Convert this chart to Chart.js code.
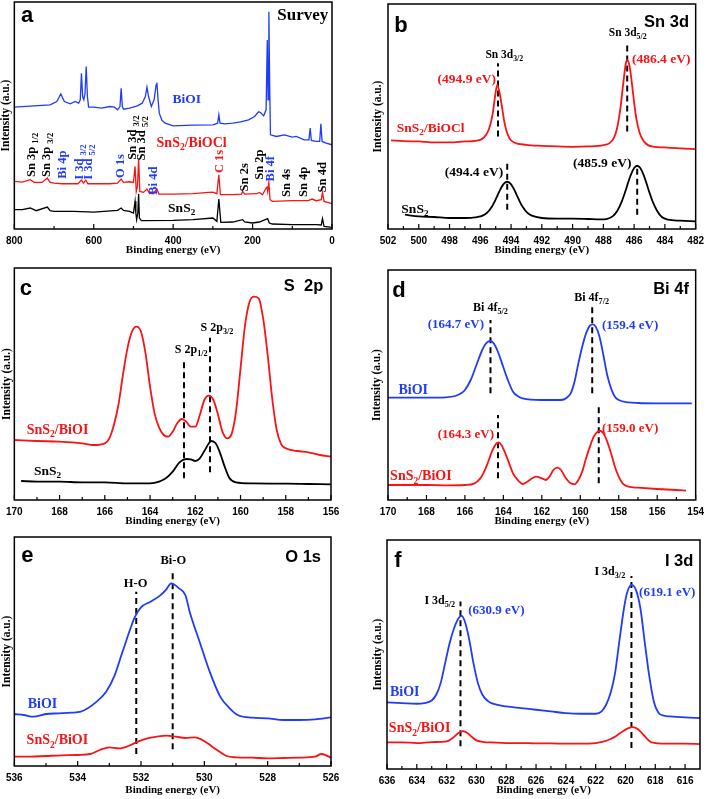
<!DOCTYPE html>
<html>
<head>
<meta charset="utf-8">
<script src="https://cdn.jsdelivr.net/npm/chart.js@4.4.1/dist/chart.umd.min.js"></script>
<style>
  html, body { margin: 0; padding: 0; background: #fff; }
  body { width: 710px; height: 799px; position: relative; overflow: hidden; }
  canvas { position: absolute; }
</style>
</head>
<body>
<canvas id="pa" width="355" height="265" style="left:0;top:0"></canvas>
<canvas id="pb" width="355" height="265" style="left:355px;top:0"></canvas>
<canvas id="pc" width="355" height="268" style="left:0;top:262px"></canvas>
<canvas id="pd" width="355" height="268" style="left:355px;top:262px"></canvas>
<canvas id="pe" width="355" height="269" style="left:0;top:530px"></canvas>
<canvas id="pf" width="355" height="269" style="left:355px;top:530px"></canvas>
<script>
// ---- data: [binding energy (eV), intensity (a.u.)] ----

// (a) survey
const aTicks = [800, 600, 400, 200, 0];
const aBiOI = [[800,366],[751,370],[710,373],[693,383],[683,406],[674,383],[659,376],[647,383],[638,378],[634,388],[631,468],[628,398],[625,388],[622,408],[619,488],[616,398],[613,366],[600,366],[580,363],[560,368],[548,366],[540,358],[534,368],[531,423],[528,368],[525,360],[510,363],[490,370],[478,378],[470,398],[466,426],[462,398],[455,368],[448,388],[443,433],[441,440],[438,388],[435,348],[428,326],[420,318],[400,310],[350,312],[300,313],[288,318],[285,343],[282,318],[270,316],[250,318],[230,322],[210,328],[195,338],[185,352],[180,350],[172,340],[166,358],[163,568],[161,388],[159,653],[157,438],[155,283],[140,278],[120,283],[100,276],[90,278],[70,268],[58,268],[55,303],[52,266],[40,263],[31,263],[28,316],[25,263],[15,258],[0,253]];
const aSnS2BiOCl = [[800,143],[780,141],[760,148],[750,140],[730,140],[717,153],[710,140],[700,138],[680,136],[640,136],[631,147],[626,138],[620,147],[615,136],[600,136],[560,136],[540,138],[531,150],[525,140],[510,142],[500,140],[496,188],[493,113],[490,128],[487,210],[484,113],[475,110],[466,120],[460,108],[450,106],[441,120],[436,105],[400,105],[350,106],[310,110],[300,111],[290,106],[285,163],[281,103],[250,103],[228,105],[225,113],[220,105],[190,106],[183,110],[175,103],[166,123],[164,128],[162,113],[159,140],[156,88],[150,83],[100,85],[60,85],[50,90],[40,85],[27,88],[24,110],[20,83],[0,76]];
const aSnS2 = [[800,58],[780,58],[760,63],[745,55],[717,66],[710,55],[700,53],[650,53],[600,51],[540,56],[531,63],[525,56],[510,53],[500,48],[496,83],[494,48],[492,28],[489,48],[487,105],[485,33],[480,25],[400,26],[350,28],[300,33],[290,23],[285,90],[280,20],[250,21],[225,28],[220,21],[200,18],[183,21],[162,31],[158,18],[150,15],[100,13],[40,13],[27,12],[24,31],[20,8],[0,5]];

// (b) Sn 3d
const bTicks = [502, 500, 498, 496, 494, 492, 490, 488, 486, 484, 482];
const bSnS2BiOCl = [[501.8,266],[501,264],[500,263],[499,260],[498,260],[497,263],[496,268],[495.6,285],[495.4,305],[495.2,345],[495.05,395],[494.9,433],[494.75,410],[494.6,370],[494.45,325],[494.3,295],[494.1,272],[493.8,260],[493,253],[492,250],[491,248],[490,247],[489,248],[488,252],[487.6,258],[487.3,275],[487.1,305],[486.9,360],[486.7,440],[486.55,495],[486.45,508],[486.3,490],[486.15,440],[486,380],[485.85,330],[485.65,290],[485.4,265],[485.1,252],[484.7,247],[484,245],[483,242],[482,240]];
const bSnS2 = [[500.9,43],[500,38],[499,36],[498,33],[497,33],[496.2,36],[495.85,40],[495.55,49],[495.25,67],[495.05,84],[494.85,104],[494.65,123],[494.45,137],[494.25,142],[494.05,137],[493.85,123],[493.65,104],[493.45,84],[493.25,67],[492.95,49],[492.65,40],[492,33],[491,31],[490,31],[489,30],[488.2,29],[487.8,30],[487.4,38],[487.1,54],[486.8,83],[486.6,109],[486.4,138],[486.2,164],[486,183],[485.8,190],[485.6,183],[485.4,164],[485.2,138],[485,109],[484.8,83],[484.5,54],[484.2,36],[483.8,28],[483,25],[482,23]];
const bPeaks = [[494.85,278,498],[486.45,293,563],[494.25,58,203],[485.8,43,193]];

// (c) S 2p
const cTicks = [170, 168, 166, 164, 162, 160, 158, 156];
const cSnS2BiOI = [[170,180],[169,177],[168,175],[167,170],[166.5,165],[166,170],[165.8,185],[165.6,225],[165.4,285],[165.2,375],[165,455],[164.8,505],[164.6,520],[164.4,505],[164.2,440],[164,340],[163.8,260],[163.6,217],[163.4,195],[163.2,190],[163,205],[162.8,230],[162.6,243],[162.4,235],[162.2,220],[162,220],[161.8,255],[161.6,300],[161.4,313],[161.2,300],[161,257],[160.8,205],[160.6,185],[160.4,197],[160.2,265],[160,395],[159.8,525],[159.6,595],[159.4,610],[159.2,605],[159,545],[158.8,435],[158.6,305],[158.4,210],[158.2,167],[158,155],[157.5,147],[157,143],[156.5,135],[156,130]];
const cSnS2 = [[169.7,57],[169,55],[168,55],[167,53],[166,53],[165,50],[164,50],[163.6,55],[163.3,65],[163,85],[162.7,113],[162.4,123],[162.2,122],[162,117],[161.8,125],[161.6,147],[161.4,170],[161.3,177],[161.1,170],[160.9,140],[160.7,100],[160.5,67],[160.2,53],[159.5,50],[158,49],[157,48],[156,47]];
const cPeaks = [[162.5,65,425],[161.35,83,487]];

// (d) Bi 4f
const dTicks = [170, 168, 166, 164, 162, 160, 158, 156, 154];
const dBiOI = [[170,307],[169,307],[168,307],[167,308],[166.5,312],[166.2,320],[166,330],[165.7,360],[165.4,405],[165.1,450],[164.9,470],[164.7,477],[164.5,470],[164.3,447],[164.1,415],[163.8,365],[163.5,325],[163.2,310],[163,305],[162,300],[161,300],[160.7,307],[160.5,320],[160.3,355],[160.1,410],[159.9,460],[159.7,500],[159.5,523],[159.35,527],[159.2,520],[159,490],[158.8,435],[158.6,375],[158.4,335],[158.2,310],[158,300],[157.5,293],[157,291],[156,290],[155,290],[154.2,290]];
const dSnS2BiOI = [[170,45],[169,45],[168,45],[167,44],[166,45],[165.5,50],[165.2,65],[165,85],[164.8,113],[164.6,145],[164.4,167],[164.25,173],[164.1,165],[163.9,140],[163.7,110],[163.5,80],[163.2,57],[163,48],[162.8,53],[162.5,65],[162.3,70],[162,65],[161.8,60],[161.6,70],[161.4,90],[161.2,97],[161,90],[160.8,70],[160.5,50],[160.3,47],[160.1,60],[159.9,85],[159.7,125],[159.5,160],[159.3,190],[159.1,205],[158.95,207],[158.8,200],[158.6,175],[158.4,140],[158.2,100],[158,70],[157.8,50],[157.5,40],[157,37],[156,33],[155,30],[154.5,28]];
const dPeaks = [[164.67,320,540],[159.38,320,580],[164.28,65,255],[159.04,50,280]];

// (e) O 1s
const eTicks = [536, 534, 532, 530, 528, 526];
const eBiOI = [[536,156],[535.7,153],[535.4,148],[535,156],[534.6,158],[534.2,160],[533.9,163],[533.4,193],[533.1,223],[532.85,268],[532.6,338],[532.35,408],[532.2,446],[532,476],[531.7,493],[531.4,511],[531.2,530],[531.05,548],[530.8,533],[530.6,513],[530.45,458],[530.15,373],[529.85,288],[529.5,208],[529.2,173],[528.95,153],[528.5,145],[528,143],[527.5,138],[527,138],[526.5,140],[526,146]];
const eSnS2BiOI = [[536,28],[535.5,28],[535,30],[534.5,32],[534,33],[533.6,36],[533.3,48],[533,56],[532.7,53],[532.4,60],[532.1,73],[531.8,83],[531.5,88],[531.2,91],[530.9,88],[530.6,84],[530.3,86],[530.1,80],[529.9,68],[529.6,48],[529.3,30],[529,26],[528.5,25],[528,23],[527.5,24],[527,25],[526.5,28],[526.3,36],[526,25]];
const ePeaks = [[532.15,36,523],[531.0,50,580]];

// (f) I 3d
const fTicks = [636, 634, 632, 630, 628, 626, 624, 622, 620, 618, 616];
const fBiOI = [[636,200],[635,198],[634,196],[633.5,198],[633,206],[632.7,223],[632.4,258],[632.1,318],[631.8,378],[631.5,423],[631.2,453],[631,460],[630.8,446],[630.5,393],[630.2,318],[629.9,258],[629.6,223],[629.2,203],[629,198],[628,188],[627,183],[626,178],[625,173],[624,168],[623,166],[622,166],[621.6,173],[621.3,193],[621,228],[620.7,288],[620.4,388],[620.1,483],[619.9,528],[619.6,553],[619.3,538],[619,483],[618.7,378],[618.4,278],[618.1,203],[617.8,170],[617.4,160],[617,158],[616,155],[615,153]];
const fSnS2BiOI = [[636,80],[635,80],[634,78],[633,81],[632,83],[631.6,93],[631.2,108],[630.9,114],[630.6,108],[630.3,96],[630,86],[629.5,81],[629,80],[628,78],[627,78],[626,77],[625,77],[624,76],[623,76],[622,78],[621.5,82],[621,90],[620.6,100],[620.2,113],[619.8,123],[619.5,126],[619.2,121],[618.9,108],[618.6,93],[618.3,81],[618,78],[617,76],[616,76],[615,75]];
const fPeaks = [[631.07,68,503],[619.6,63,580]];

// ---- styling / layout ----
const BLUE = '#1f3cf8', RED = '#f81414', BLACK = '#000000';
const SERIF = '"Liberation Serif", "Times New Roman", serif';
const SANS = '"Liberation Sans", Arial, sans-serif';

function parseRich(str) {
  const parts = [], re = /_\{([^}]*)\}/g;
  let last = 0, m;
  while ((m = re.exec(str))) {
    if (m.index > last) parts.push({ t: str.slice(last, m.index), sub: false });
    parts.push({ t: m[1], sub: true });
    last = re.lastIndex;
  }
  if (last < str.length) parts.push({ t: str.slice(last), sub: false });
  return parts;
}

function drawRich(ctx, str, x, y, fs, color, align) {
  const parts = parseRich(str);
  let w = 0;
  parts.forEach(p => {
    ctx.font = 'bold ' + (p.sub ? fs * 0.68 : fs) + 'px ' + SERIF;
    p.w = ctx.measureText(p.t).width;
    w += p.w;
  });
  let cx = align === 'center' ? x - w / 2 : (align === 'right' ? x - w : x);
  ctx.fillStyle = color;
  ctx.textAlign = 'left';
  ctx.textBaseline = 'middle';
  parts.forEach(p => {
    ctx.font = 'bold ' + (p.sub ? fs * 0.68 : fs) + 'px ' + SERIF;
    ctx.fillText(p.t, cx, y + (p.sub ? fs * 0.32 : 0));
    cx += p.w;
  });
}

function panelPlugin(p) {
  return {
    id: 'panel_' + p.id,
    afterDatasetsDraw(chart) {
      const ctx = chart.ctx, a = chart.chartArea;
      const xs = chart.scales.x, ys = chart.scales.y;
      ctx.save();
      ctx.strokeStyle = '#000';
      ctx.lineWidth = 1.5;
      ctx.strokeRect(a.left, a.top, a.right - a.left, a.bottom - a.top);
      // inward ticks, major + minor
      ctx.lineWidth = 1.2;
      ctx.beginPath();
      p.ticks.forEach((v, i) => {
        const px = xs.getPixelForValue(v);
        ctx.moveTo(px, a.bottom); ctx.lineTo(px, a.bottom - 5);
        if (i < p.ticks.length - 1) {
          const mx = xs.getPixelForValue((v + p.ticks[i + 1]) / 2);
          ctx.moveTo(mx, a.bottom); ctx.lineTo(mx, a.bottom - 3);
        }
      });
      ctx.stroke();

      ctx.fillStyle = '#000';
      ctx.textAlign = 'center';
      ctx.textBaseline = 'middle';
      ctx.font = 'bold 11px ' + SERIF;
      ctx.fillText('Binding energy (eV)', (a.left + a.right) / 2, a.bottom + p.xTitleDy);
      ctx.save();
      ctx.translate(a.left + p.yTitleDx, (a.top + a.bottom) / 2);
      ctx.rotate(-Math.PI / 2);
      ctx.font = 'bold 11.5px ' + SERIF;
      ctx.fillText('Intensity (a.u.)', 0, 0);
      ctx.restore();

      ctx.textBaseline = 'alphabetic';
      ctx.textAlign = 'left';
      ctx.font = 'bold 22px ' + SANS;
      ctx.fillText(p.letter[0], a.left + p.letter[1], a.top + p.letter[2]);
      ctx.textAlign = 'right';
      ctx.font = 'bold ' + p.title[3] + 'px ' + (p.title[4] === 'serif' ? SERIF : SANS);
      ctx.fillText(p.title[0], a.right + p.title[1], a.top + p.title[2]);

      p.labels.forEach(l => {
        const px = xs.getPixelForValue(l.x), py = ys.getPixelForValue(l.y);
        const fs = l.s || 13.5;
        if (l.rot) {
          ctx.save();
          ctx.translate(px, py);
          ctx.rotate(-Math.PI / 2);
          drawRich(ctx, l.t, 0, 0, fs, l.c, 'left');
          ctx.restore();
        } else {
          drawRich(ctx, l.t, px, py, fs, l.c, 'center');
        }
      });
      ctx.restore();
    }
  };
}

function makePanel(p) {
  const cv = document.getElementById(p.id);
  const cx = parseFloat(cv.style.left) || 0, cy = parseFloat(cv.style.top) || 0;
  const yw = p.area[0] - cx, padTop = p.area[1] - cy;
  const padRight = cx + cv.width - p.area[2], xh = cy + cv.height - p.area[3];

  const datasets = p.series.map(s => ({
    data: s.d.map(q => ({ x: q[0], y: q[1] })),
    borderColor: s.c,
    borderWidth: p.lw,
    pointRadius: 0,
    fill: false,
    tension: p.smooth ? 0.4 : 0,
    cubicInterpolationMode: p.smooth ? 'monotone' : 'default'
  }));
  p.peaks.forEach(k => datasets.push({
    data: [{ x: k[0], y: k[1] }, { x: k[0], y: k[2] }],
    borderColor: '#000',
    borderWidth: 2,
    borderDash: [6, 4],
    pointRadius: 0,
    fill: false
  }));

  return new Chart(cv, {
    type: 'line',
    data: { datasets },
    options: {
      responsive: false,
      animation: false,
      events: [],
      layout: { padding: { top: padTop, right: padRight, left: 0, bottom: 0 } },
      plugins: { legend: { display: false }, tooltip: { enabled: false } },
      scales: {
        x: {
          type: 'linear',
          reverse: true,
          min: p.xmin,
          max: p.xmax,
          afterBuildTicks: s => { s.ticks = p.ticks.map(v => ({ value: v })); },
          afterFit: s => { s.height = xh; },
          grid: { display: false, drawTicks: false },
          border: { display: false },
          ticks: {
            autoSkip: false, maxRotation: 0, padding: 6, color: '#000',
            font: { family: SANS, size: 10, weight: 'bold' },
            callback: v => String(v)
          }
        },
        y: {
          min: 0,
          max: p.ymax,
          afterFit: s => { s.width = yw; },
          grid: { display: false, drawTicks: false },
          border: { display: false },
          ticks: { display: false }
        }
      }
    },
    plugins: [panelPlugin(p)]
  });
}

makePanel({
  id: 'pa', area: [14, 2, 332, 229], xmin: 0, xmax: 800, ymax: 682, ticks: aTicks,
  lw: 1.3, smooth: false,
  series: [{ d: aSnS2, c: BLACK }, { d: aSnS2BiOCl, c: RED }, { d: aBiOI, c: BLUE }],
  peaks: [],
  xTitleDy: 21, yTitleDx: -8,
  letter: ['a', 6.7, 19.7], title: ['Survey', -3.7, 18, 17, 'serif'],
  labels: [
    { x: 755.6, y: 156, t: 'Sn 3p _{1/2}', c: BLACK, rot: 1, s: 12.5 },
    { x: 717.9, y: 156, t: 'Sn 3p _{3/2}', c: BLACK, rot: 1, s: 12.5 },
    { x: 677.7, y: 151, t: 'Bi 4p', c: BLUE, rot: 1, s: 12.5 },
    { x: 634.1, y: 148, t: 'I 3d _{3/2}', c: BLUE, rot: 1, s: 12.5 },
    { x: 613.2, y: 148, t: 'I 3d _{5/2}', c: BLUE, rot: 1, s: 12.5 },
    { x: 531, y: 153, t: 'O 1s', c: BLUE, rot: 1, s: 12.5 },
    { x: 501.8, y: 208, t: 'Sn 3d _{3/2}', c: BLACK, rot: 1, s: 12.5 },
    { x: 479.2, y: 206, t: 'Sn 3d _{5/2}', c: BLACK, rot: 1, s: 12.5 },
    { x: 448.2, y: 103, t: 'Bi 4d', c: BLUE, rot: 1, s: 12.5 },
    { x: 282.3, y: 168, t: 'C 1s', c: RED, rot: 1, s: 12.5 },
    { x: 219.5, y: 113, t: 'Sn 2s', c: BLACK, rot: 1, s: 12.5 },
    { x: 181.8, y: 148, t: 'Sn 2p', c: BLACK, rot: 1, s: 12.5 },
    { x: 155, y: 143, t: 'Bi 4f', c: BLUE, rot: 1, s: 12.5 },
    { x: 114.8, y: 96, t: 'Sn 4s', c: BLACK, rot: 1, s: 12.5 },
    { x: 71.2, y: 96, t: 'Sn 4p', c: BLACK, rot: 1, s: 12.5 },
    { x: 24.3, y: 110, t: 'Sn 4d', c: BLACK, rot: 1, s: 12.5 },
    { x: 366, y: 390, t: 'BiOI', c: BLUE, s: 13.5 },
    { x: 353.5, y: 258, t: 'SnS_{2}/BiOCl', c: RED, s: 14 },
    { x: 378.6, y: 63, t: 'SnS_{2}', c: BLACK, s: 13.5 }
  ]
});

makePanel({
  id: 'pb', area: [388, 4, 700, 229], xmin: 482, xmax: 502, ymax: 676, ticks: bTicks,
  lw: 1.8, smooth: true,
  series: [{ d: bSnS2BiOCl, c: RED }, { d: bSnS2, c: BLACK }],
  peaks: bPeaks,
  xTitleDy: 21, yTitleDx: -10,
  letter: ['b', 6.3, 27.7], title: ['Sn 3d', -6.7, 23.3, 16.5, 'sans'],
  labels: [
    { x: 494.44, y: 523, t: 'Sn 3d_{3/2}', c: BLACK, s: 11.5 },
    { x: 486.42, y: 588, t: 'Sn 3d_{5/2}', c: BLACK, s: 11.5 },
    { x: 496.88, y: 448, t: '(494.9 eV)', c: RED, s: 13.5 },
    { x: 484.24, y: 510, t: '(486.4 eV)', c: RED, s: 13.5 },
    { x: 496.41, y: 170, t: '(494.4 eV)', c: BLACK, s: 13.5 },
    { x: 488.08, y: 198, t: '(485.9 eV)', c: BLACK, s: 13.5 },
    { x: 499.23, y: 303, t: 'SnS_{2}/BiOCl', c: RED, s: 13.5 },
    { x: 500.25, y: 60, t: 'SnS_{2}', c: BLACK, s: 13.5 }
  ]
});

makePanel({
  id: 'pc', area: [13, 268, 331, 500], xmin: 156, xmax: 170, ymax: 696, ticks: cTicks,
  lw: 1.8, smooth: true,
  series: [{ d: cSnS2BiOI, c: RED }, { d: cSnS2, c: BLACK }],
  peaks: cPeaks,
  xTitleDy: 21, yTitleDx: -7,
  letter: ['c', 5.3, 27], title: ['S  2p', -7.7, 23, 16.5, 'sans'],
  labels: [
    { x: 162.18, y: 450, t: 'S 2p_{1/2}', c: BLACK, s: 12 },
    { x: 161.04, y: 515, t: 'S 2p_{3/2}', c: BLACK, s: 12 },
    { x: 168.09, y: 210, t: 'SnS_{2}/BiOI', c: RED, s: 14 },
    { x: 168.53, y: 85, t: 'SnS_{2}', c: BLACK, s: 13.5 }
  ]
});

makePanel({
  id: 'pd', area: [388, 270, 700, 500], xmin: 154, xmax: 170, ymax: 690, ticks: dTicks,
  lw: 1.8, smooth: true,
  series: [{ d: dBiOI, c: BLUE }, { d: dSnS2BiOI, c: RED }],
  peaks: dPeaks,
  xTitleDy: 21, yTitleDx: -11,
  letter: ['d', 4.3, 26.7], title: ['Bi 4f', -6.7, 24.3, 16.5, 'sans'],
  labels: [
    { x: 164.67, y: 575, t: 'Bi 4f_{5/2}', c: BLACK, s: 12 },
    { x: 159.41, y: 605, t: 'Bi 4f_{7/2}', c: BLACK, s: 12 },
    { x: 166.47, y: 525, t: '(164.7 eV)', c: BLUE, s: 13 },
    { x: 157.41, y: 522, t: '(159.4 eV)', c: BLUE, s: 13 },
    { x: 165.95, y: 197, t: '(164.3 eV)', c: RED, s: 13 },
    { x: 157.41, y: 215, t: '(159.0 eV)', c: RED, s: 13 },
    { x: 168.69, y: 330, t: 'BiOI', c: BLUE, s: 14 },
    { x: 168.29, y: 70, t: 'SnS_{2}/BiOI', c: RED, s: 14 }
  ]
});

makePanel({
  id: 'pe', area: [13, 537, 331, 766], xmin: 526, xmax: 536, ymax: 687, ticks: eTicks,
  lw: 1.8, smooth: true,
  series: [{ d: eBiOI, c: BLUE }, { d: eSnS2BiOI, c: RED }],
  peaks: ePeaks,
  xTitleDy: 24, yTitleDx: -7,
  letter: ['e', 7, 24.7], title: ['O 1s', -10, 24.7, 16.5, 'sans'],
  labels: [
    { x: 532.17, y: 548, t: 'H-O', c: BLACK, s: 12.5 },
    { x: 530.98, y: 616, t: 'Bi-O', c: BLACK, s: 12.5 },
    { x: 535.11, y: 186, t: 'BiOI', c: BLUE, s: 14 },
    { x: 534.64, y: 76, t: 'SnS_{2}/BiOI', c: RED, s: 14 }
  ]
});

makePanel({
  id: 'pf', area: [387, 540, 700, 769], xmin: 615, xmax: 636, ymax: 688, ticks: fTicks,
  lw: 1.8, smooth: true,
  series: [{ d: fBiOI, c: BLUE }, { d: fSnS2BiOI, c: RED }],
  peaks: fPeaks,
  xTitleDy: 21, yTitleDx: -9,
  letter: ['f', 7.3, 27], title: ['I 3d', -6.7, 26, 16.5, 'sans'],
  labels: [
    { x: 632.46, y: 506, t: 'I 3d_{5/2}', c: BLACK, s: 12 },
    { x: 628.66, y: 476, t: '(630.9 eV)', c: BLUE, s: 13 },
    { x: 621.05, y: 593, t: 'I 3d_{3/2}', c: BLACK, s: 12 },
    { x: 617.2, y: 530, t: '(619.1 eV)', c: BLUE, s: 13 },
    { x: 634.81, y: 230, t: 'BiOI', c: BLUE, s: 14 },
    { x: 633.81, y: 121, t: 'SnS_{2}/BiOI', c: RED, s: 14 }
  ]
});
</script>
</body>
</html>
